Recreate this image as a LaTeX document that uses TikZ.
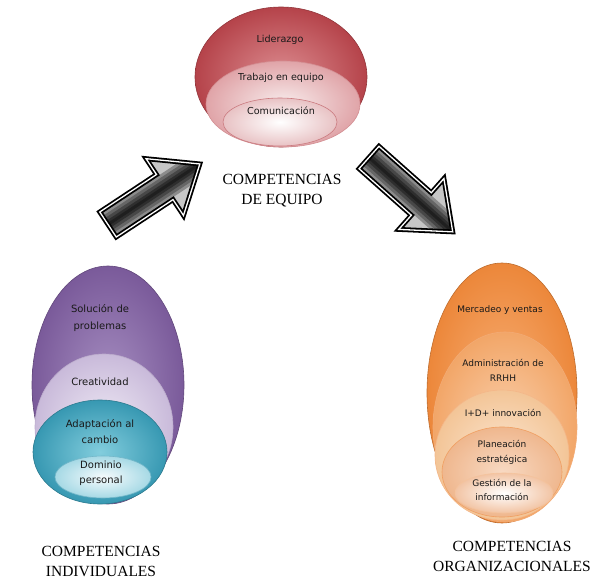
\documentclass[tikz,border=0pt]{standalone}
\usepackage{fontspec}
\newfontfamily\lblfont{DejaVu Sans}
\newfontfamily\capfont{Liberation Serif}
\begin{document}
\begin{tikzpicture}[x=1pt,y=-1pt,
  lbl/.style={font=\lblfont\fontsize{9}{15}\selectfont, align=center, text=black!90, inner sep=0pt},
  captxt/.style={font=\capfont\fontsize{15.5}{20}\selectfont, align=center, inner sep=0pt},
  oval/.style={line width=0.6pt},
  bigarrow/.style={draw=black, line width=1.8pt, double=white, double distance=1.3pt, line join=miter}
]
\useasboundingbox (0,0) rectangle (597,580);
\definecolor{redA}{HTML}{B5434A}\definecolor{redB}{HTML}{DC8C90}
\definecolor{redC}{HTML}{E0A4A8}\definecolor{redD}{HTML}{F8ECEC}
\definecolor{redE}{HTML}{E8C2C4}
\definecolor{purA}{HTML}{7A5A9A}\definecolor{purB}{HTML}{A58DC0}
\definecolor{purC}{HTML}{C9BADA}\definecolor{purD}{HTML}{EEE9F4}
\definecolor{tealA}{HTML}{3798B2}\definecolor{tealB}{HTML}{82CDDD}
\definecolor{tealC}{HTML}{A6D9E5}\definecolor{tealD}{HTML}{F6FBFD}
\definecolor{orA}{HTML}{EC873A}\definecolor{orB}{HTML}{F7AE74}
\definecolor{orC}{HTML}{F2A668}\definecolor{orD}{HTML}{F9CEAA}
\definecolor{orE}{HTML}{F3C597}\definecolor{orF}{HTML}{FBE4CE}
\definecolor{orG}{HTML}{EFB78E}\definecolor{orH}{HTML}{F8D9C2}
\definecolor{orI}{HTML}{F2C4A4}

% ---- top (red) ----
\path[oval, draw=redA!80!black, inner color=redB, outer color=redA] (281,77) ellipse [x radius=86pt, y radius=70pt];
\path[oval, draw=redA!60, inner color=redD, outer color=redC] (283,104) ellipse [x radius=77pt, y radius=43pt];
\path[oval, draw=redA!70, inner color=white, outer color=redE] (280,122) ellipse [x radius=57pt, y radius=24pt];
\node[lbl, font=\lblfont\fontsize{9.6}{15}\selectfont] (lid) at (280,40) {Liderazgo};
\node[lbl, font=\lblfont\fontsize{9.6}{15}\selectfont] (tra) at (281,78) {Trabajo en equipo};
\node[lbl, font=\lblfont\fontsize{9.6}{15}\selectfont] (com) at (281,111) {Comunicación};

% ---- left (purple / teal) ----
\path[oval, draw=purA!80!black, inner color=purB, outer color=purA] (108,385) ellipse [x radius=76pt, y radius=119pt];
\path[oval, draw=purA!50, inner color=purD, outer color=purC] (104,427) ellipse [x radius=69pt, y radius=73pt];
\path[oval, draw=tealA!80!black, inner color=tealB, outer color=tealA] (100,452) ellipse [x radius=67pt, y radius=52pt];
\path[oval, draw=tealA!70, inner color=tealD, outer color=tealC] (103,477) ellipse [x radius=48pt, y radius=21pt];
\node[lbl, font=\lblfont\fontsize{10}{17}\selectfont] (sol) at (100,318.5) {Solución de\\problemas};
\node[lbl, font=\lblfont\fontsize{10}{16}\selectfont] (cre) at (100,382) {Creatividad};
\node[lbl, font=\lblfont\fontsize{10}{16}\selectfont] (ada) at (100,432) {Adaptación al\\cambio};
\node[lbl, font=\lblfont\fontsize{10}{15}\selectfont] (dom) at (101,473.5) {Dominio\\personal};

% ---- right (orange) ----
\path[oval, draw=orA!80!black, inner color=orB, outer color=orA] (502,393) ellipse [x radius=75pt, y radius=130pt];
\path[oval, draw=orA!70, inner color=orD, outer color=orC] (505,427) ellipse [x radius=72pt, y radius=95pt];
\path[oval, draw=orA!60, inner color=orF, outer color=orE] (502,455) ellipse [x radius=67pt, y radius=65pt];
\path[oval, draw=orA!80, inner color=orH, outer color=orG] (502,472) ellipse [x radius=60pt, y radius=45pt];
\path[oval, draw=orA!50, inner color=white, outer color=orI] (504,493) ellipse [x radius=49pt, y radius=20pt];
\node[lbl] (mer) at (500,310) {Mercadeo y ventas};
\node[lbl] (adm) at (503,370.5) {Administración de\\RRHH};
\node[lbl] (imd) at (503,413) {I+D+ innovación};
\node[lbl] (pla) at (502,452.5) {Planeación\\estratégica};
\node[lbl, font=\lblfont\fontsize{9}{14}\selectfont] (ges) at (502,490) {Gestión de la\\información};

% ---- arrows ----
\def\leftarrowpoly{(0,-15) -- (68,-15) -- (68,-34) -- (110,0) -- (68,34) -- (68,15) -- (0,15) -- cycle}
\def\rightarrowpoly{(0,-15) -- (70,-15) -- (70,-34) -- (112,0) -- (70,34) -- (70,15) -- (0,15) -- cycle}
\begin{scope}[shift={(108,224.5)}, rotate=33.4]
  \begin{scope}
    \clip \leftarrowpoly;
    \fill[gray!45] (-5,-40) rectangle (120,40);
    \foreach \w/\c in {26/45,20/60,14/72,8/82,3/88}
      \draw[line width=\w pt, black!\c, line cap=round] (-4,0) -- (104,0);
  \end{scope}
  \path[bigarrow] \leftarrowpoly;
\end{scope}
\begin{scope}[shift={(369,157.5)}, rotate=-41.6]
  \begin{scope}
    \clip \rightarrowpoly;
    \fill[gray!45] (-5,-40) rectangle (120,40);
    \foreach \w/\c in {26/45,20/60,14/72,8/82,3/88}
      \draw[line width=\w pt, black!\c, line cap=round] (-4,0) -- (106,0);
  \end{scope}
  \path[bigarrow] \rightarrowpoly;
\end{scope}

% ---- captions ----
\node[captxt] (ceq) at (282,191) {COMPETENCIAS\\DE EQUIPO};
\node[captxt] (cin) at (101,561) {COMPETENCIAS\\INDIVIDUALES};
\node[captxt] (cor) at (512,556) {COMPETENCIAS\\ORGANIZACIONALES};
\end{tikzpicture}
\end{document}
